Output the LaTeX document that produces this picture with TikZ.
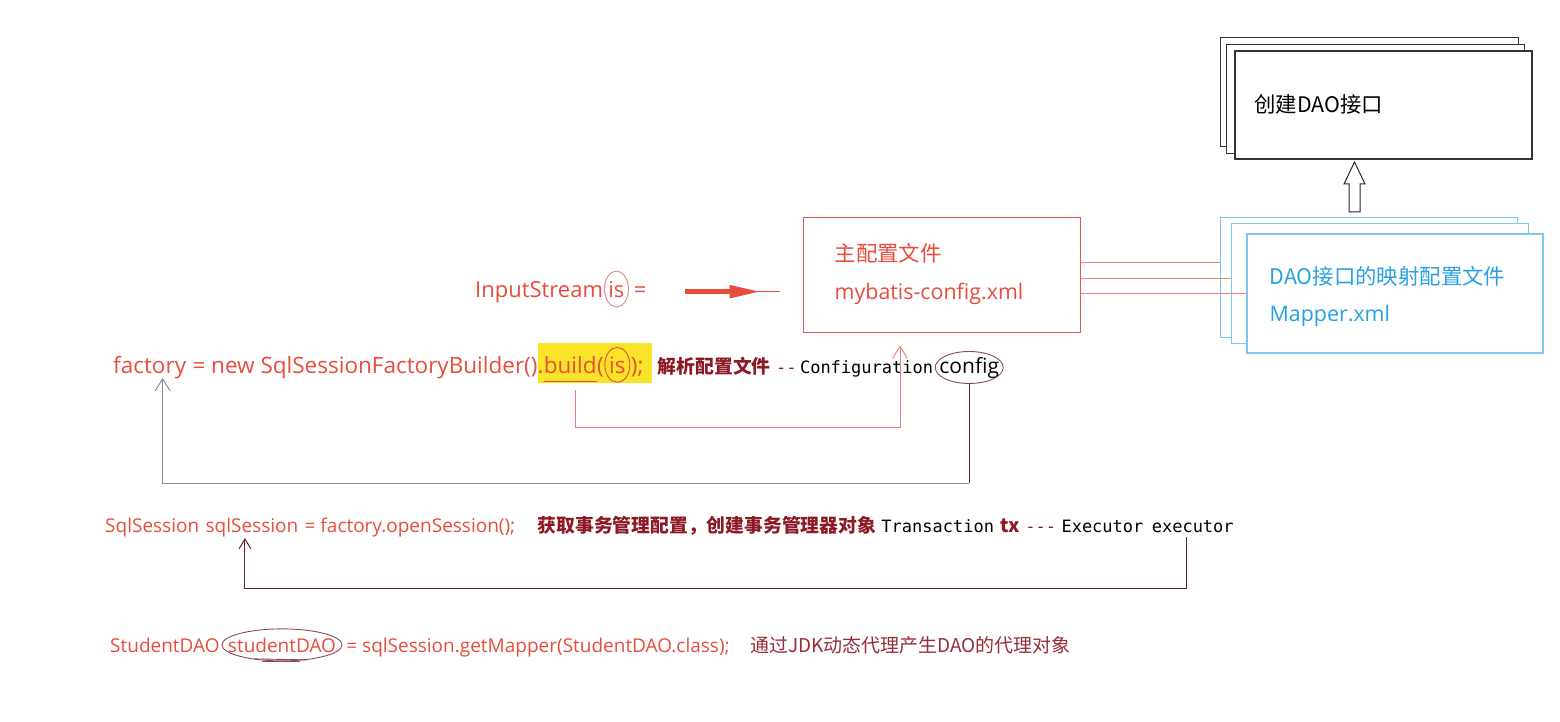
\documentclass[tikz,border=0pt]{standalone}
\usepackage{fontspec}
\setmainfont{Open Sans}
\newfontfamily\cjk{Noto Sans CJK SC}
\newfontfamily\monof{DejaVu Sans Mono}
\usetikzlibrary{arrows.meta,backgrounds}

\definecolor{codered}{RGB}{231,76,60}
\definecolor{wine}{RGB}{140,26,36}
\definecolor{notewine}{RGB}{150,45,55}
\definecolor{hlyellow}{RGB}{250,228,40}
\definecolor{boxred}{RGB}{222,90,90}
\definecolor{linkred}{RGB}{238,128,128}
\definecolor{mapblue}{RGB}{40,160,225}
\definecolor{mapedge}{RGB}{125,200,238}
\definecolor{ringpink}{RGB}{222,130,135}
\definecolor{ringwine}{RGB}{145,70,95}
\definecolor{backwine}{RGB}{105,35,50}
\definecolor{backgrey}{RGB}{140,140,140}

\tikzset{
  txt/.style={anchor=base west, inner sep=0pt},
  code/.style={txt, text=codered, font=\fontsize{22.5}{22.5}\selectfont},
  codesm/.style={txt, text=codered, font=\fontsize{19}{19}\selectfont},
  note/.style={txt, text=wine, font=\cjk\bfseries\fontsize{18.8}{19}\selectfont},
  mono/.style={txt, text=black, font=\monof\fontsize{17}{17}\selectfont},
  boxtxt/.style={txt, font=\cjk\fontsize{21.4}{21.4}\selectfont},
  cfgbox/.style={draw=boxred, line width=1pt, fill=white, minimum width=277pt, minimum height=115pt, inner sep=0pt},
  mapbox/.style={draw=mapedge, line width=1.2pt, fill=white, minimum width=296pt, minimum height=119pt, inner sep=0pt},
  daobox/.style={draw=black!80, line width=1.3pt, fill=white, minimum width=297pt, minimum height=108pt, inner sep=0pt},
  ring/.style={line width=0.9pt},
  barb/.style={line width=1pt, -{Straight Barb[length=12pt,width=15pt]}},
}

\begin{document}
\begin{tikzpicture}[x=1pt, y=-1pt]
\useasboundingbox (0,0) rectangle (1560,722);

% DAO interface stack
\node[daobox] (dao) at (1383.5,105) {};
\begin{scope}[on background layer]
\draw[black!80, line width=1.3pt, fill=white] ([shift={(-14,-13)}]dao.south west) rectangle ([shift={(-14,-13)}]dao.north east);
\draw[black!80, line width=1.3pt, fill=white] ([shift={(-8,-6)}]dao.south west) rectangle ([shift={(-8,-6)}]dao.north east);
\end{scope}
\node[boxtxt] (daoT) at ([shift={(20,8)}]dao.west) {创建DAO接口};

% mapper stack
\node[mapbox] (map) at (1395,293.5) {};
\begin{scope}[on background layer]
\draw[mapedge, line width=1.2pt, fill=white] ([shift={(-26,-16)}]map.south west) coordinate (mapBack) rectangle ([shift={(-26,-16)}]map.north east);
\draw[mapedge, line width=1.2pt, fill=white] ([shift={(-15,-10)}]map.south west) coordinate (mapMid) rectangle ([shift={(-15,-10)}]map.north east);
\end{scope}
\node[boxtxt, text=mapblue] (mapT1) at ([shift={(23,51)}]map.north west) {DAO接口的映射配置文件};
\node[txt, text=mapblue, font=\fontsize{21.4}{21.4}\selectfont] (mapT2) at ([shift={(23,88)}]map.north west) {Mapper.xml};

\draw[black!85, line width=1pt, fill=white] (1349,212) -- (1349,184) -- (1344,184) -- (1354.5,162) -- (1365,184) -- (1360,184) -- (1360,212) -- cycle;

% main config file
\node[cfgbox] (cfg) at (941.5,274.5) {};
\node[boxtxt, text=codered] (cfgT1) at ([shift={(32,45)}]cfg.north west) {主配置文件};
\node[txt, text=codered, font=\fontsize{21.4}{21.4}\selectfont] (cfgT2) at ([shift={(32,83)}]cfg.north west) {mybatis-config.xml};

\path ([yshift=12.5pt]cfg.east) coordinate (l1) ([yshift=-3.5pt]cfg.east) coordinate (l2) ([yshift=-18.5pt]cfg.east) coordinate (l3);
\draw[linkred, line width=0.9pt] (l1) -- (l1 -| mapBack) (l2) -- (l2 -| mapMid) (l3) -- (l3 -| map.west);

% InputStream
\node[code, font=\fontsize{22}{22}\selectfont] (ins) at (475,297) {InputStream};
\node[code, font=\fontsize{22}{22}\selectfont] (isA) at ([xshift=5pt]ins.base east) {is};
\node[code, font=\fontsize{22}{22}\selectfont] (eqA) at ([xshift=9pt]isA.base east) {=};
\draw[ring, draw=ringpink] (isA.center) ellipse [x radius=12pt, y radius=18pt];

\coordinate (arrS) at ([xshift=38pt]eqA.east);
\coordinate (arrE) at (cfg.west |- arrS);
\draw[codered, line width=1.6pt] (arrS) -- ([xshift=-23pt]arrE);
\draw[codered, line width=5pt, -{Triangle[length=32pt,width=12pt]}] (arrS) -- ([xshift=-41pt]arrE);

% factory line
\node[code] (fac) at (113,373) {factory};
\node[code] (newB) at ([xshift=6pt]fac.base east) {= new SqlSessionFactoryBuilder().};
\node[code] (bld) at (newB.base east) {build};
\node[code] (lp) at (bld.base east) {(};
\node[code] (isB) at ([xshift=5pt]lp.base east) {is};
\node[code] (semi) at ([xshift=5pt]isB.base east) {);};
\begin{scope}[on background layer]
\fill[hlyellow] ([shift={(-6,-30)}]bld.base west) rectangle ([shift={(8,10)}]semi.base east);
\end{scope}
\draw[codered, line width=1pt] ([yshift=-8pt]bld.base west) -- ([yshift=-8pt]bld.base east);
\draw[ring, draw=codered] (isB.center) ellipse [x radius=12.5pt, y radius=17.5pt];

\node[note] (parse) at ([xshift=14pt]semi.base east) {解析配置文件};
\node[mono, text=wine] (dd) at ([xshift=5pt]parse.base east) {-{}-};
\node[mono] (cfgcls) at ([xshift=3pt]dd.base east) {Configuration};
\node[txt, font=\fontsize{21}{21}\selectfont] (cfgE) at ([xshift=6pt]cfgcls.base east) {config};
\draw[ring, draw=ringwine] (cfgE.center) ellipse [x radius=34pt, y radius=16pt];

\draw[linkred, barb] ([xshift=5pt,yshift=-17pt]bld.base) -- ++(0,37) -| ([xshift=-41.5pt,yshift=-13pt]cfg.south);

\coordinate (c2) at ([yshift=-116pt]cfgE.center);
\draw[backwine, line width=1pt] ([yshift=-16pt]cfgE.center) -- (c2);
\draw[backgrey, barb] (c2) -| ([xshift=13pt,yshift=-5pt]fac.base);

% openSession line
\node[codesm] (sqlT) at (105,532) {SqlSession};
\node[codesm] (sqs) at ([xshift=6pt]sqlT.base east) {sqlSession};
\node[codesm] (open) at ([xshift=6pt]sqs.base east) {= factory.openSession();};
\node[note] (txn) at ([xshift=22pt]open.base east) {获取事务管理配置，创建事务管理器对象};
\node[mono] (trn) at ([xshift=5pt]txn.base east) {Transaction};
\node[txt, text=wine, font=\cjk\bfseries\fontsize{19}{19}\selectfont] (tx) at ([xshift=6pt]trn.base east) {tx};
\node[mono, text=wine] (ddd) at ([xshift=5pt]tx.base east) {-{}-{}-};
\node[mono] (exT) at ([xshift=5pt]ddd.base east) {Executor};
\node[mono] (exe) at ([xshift=8pt]exT.base east) {executor};

\draw[backwine, line width=1pt, -{Straight Barb[length=10pt,width=12pt]}] ([xshift=-6pt,yshift=-5pt]exe.base) -- ++(0,51) -| ([xshift=-7pt,yshift=-6pt]sqs.base);

% getMapper line
\node[codesm] (stuT) at (110,652) {StudentDAO};
\node[codesm] (sdao) at ([xshift=8pt]stuT.base east) {studentDAO};
\node[codesm] (gm) at ([xshift=10pt]sdao.base east) {= sqlSession.getMapper(StudentDAO.class);};
\node[txt, text=notewine, font=\cjk\fontsize{19}{19}\selectfont] (proxy) at ([xshift=20pt]gm.base east) {通过JDK动态代理产生DAO的代理对象};
\draw[ring, draw=ringwine] (sdao.center) ellipse [x radius=60pt, y radius=16pt];
\draw[ring, draw=ringwine] ([shift={(-28,14)}]sdao.center) -- ([shift={(25,15)}]sdao.center);
\draw[ring, draw=ringwine] ([shift={(-20,17)}]sdao.center) -- ([shift={(18,17)}]sdao.center);

\end{tikzpicture}
\end{document}
